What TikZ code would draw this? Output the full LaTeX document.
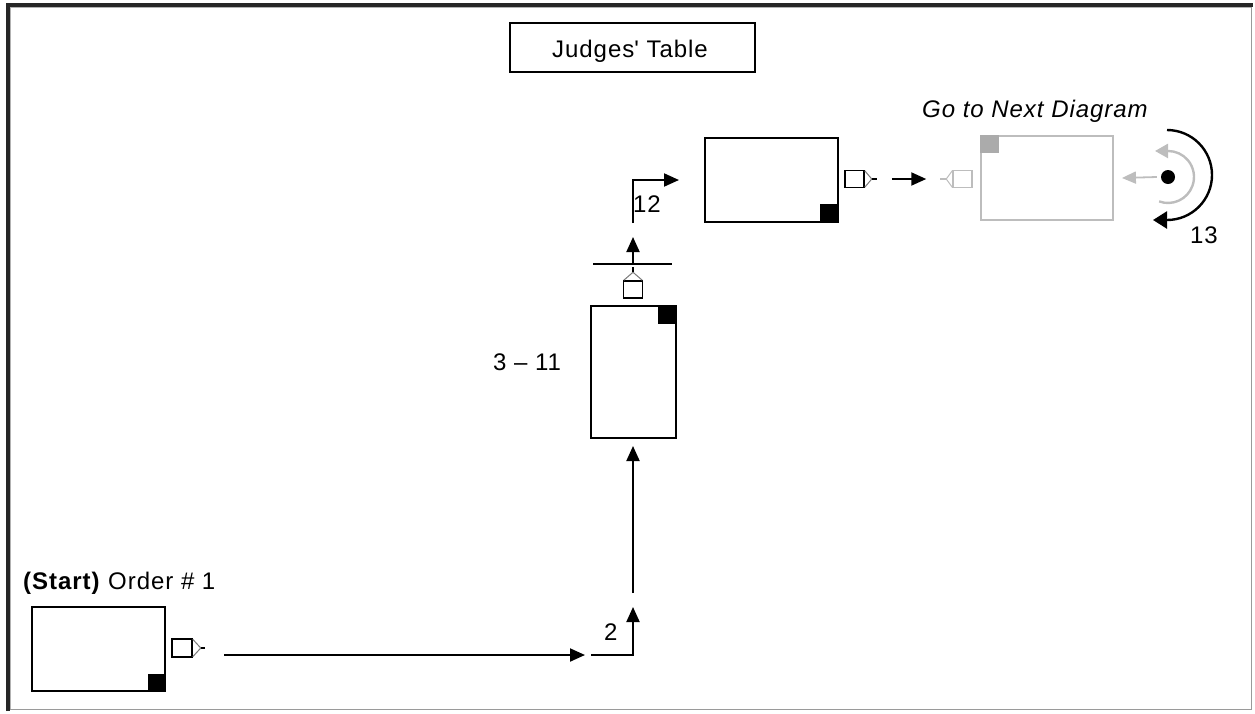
\documentclass[tikz,border=0pt]{standalone}
\usepackage{fontspec}
\setmainfont[LetterSpace=4]{Liberation Sans}
\usetikzlibrary{arrows.meta,bending,calc}
\definecolor{frameDark}{HTML}{262626}
\definecolor{frameGray}{HTML}{9A9A9A}
\definecolor{ghost}{HTML}{BDBDBD}
\definecolor{ghostDark}{HTML}{ABABAB}
\definecolor{triGray}{HTML}{7A7A7A}
\newcommand\lblfont{\fontsize{24}{28}\selectfont}
\begin{document}
\begin{tikzpicture}[x=1pt,y=-1pt,
  lbl/.style={inner sep=0pt, font=\lblfont},
  box/.style={draw=black, line width=2pt, inner sep=0pt, minimum width=133pt, minimum height=84pt},
  ghostbox/.style={draw=ghost, line width=1.8pt, inner sep=0pt, minimum width=132pt, minimum height=84pt},
  portbox/.style={draw=black, line width=1.5pt, fill=white, inner sep=0pt, minimum width=19pt, minimum height=17pt},
  ghostport/.style={portbox, draw=ghost},
  tri/.style={draw=triGray, line width=1pt},
  stub/.style={draw=black, line width=1.1pt},
  flow/.style={line width=2pt, -{Triangle[length=15pt,width=13pt]}},
  ghostflow/.style={draw=ghost, line width=1.8pt, -{Triangle[length=14pt,width=12pt]}},
  ghostarc/.style={draw=ghost, line width=2.4pt, -{Triangle[length=13pt,width=14pt]}},
  blackarc/.style={draw=black, line width=2.4pt, -{Triangle[length=14pt,width=17pt]}},
]
\useasboundingbox (0,0) rectangle (1255,713);
% frame
\draw[frameGray, line width=1.2pt] (8,709.6) -- (1251.6,709.6) -- (1251.6,5);
\draw[black!30, line width=0.8pt] (10.6,709) -- (10.6,7.6) -- (1251,7.6);
\draw[frameDark, line width=3.4pt] (8,711) -- (8,5) -- (1253,5);

% title
\node[draw, line width=2.6pt, minimum width=245pt, minimum height=49pt, inner sep=0pt] (judges) at (632.5,47.5) {};
\node[lbl, anchor=base] (judgesText) at (630,57) {Judges\textquotesingle{} Table};

% start box
\node[lbl, anchor=base west] (startLbl) at (23,589) {\textbf{(Start)} Order \# 1};
\node[box] (start) at (98.5,649) {};
\fill (start.south east) rectangle ++(-18,-18);
\node[portbox, minimum width=20pt, minimum height=18pt] (pStart) at (182,648) {};
\draw[tri] ([yshift=-1pt]pStart.north east) -- ([xshift=8pt]pStart.east) -- ([yshift=1pt]pStart.south east);
\draw[stub] ([xshift=8pt]pStart.east) -- ([xshift=12pt]pStart.east);

% bottom connectors
\coordinate (s1) at (224,655);
\coordinate (s2) at (585,655);
\draw[flow] (s1) -- (s2);
\coordinate (e1) at (591,655);
\coordinate (e2) at (633,655);
\coordinate (e3) at (633,607);
\draw[flow] (e1) -- (e2) -- (e3);
\node[lbl, anchor=base west] (n2) at (604,640) {2};

% 3-11 box
\node[box, minimum width=85pt, minimum height=132pt] (b311) at (633,372) {};
\fill (b311.north east) rectangle ++(-19,19);
\node[lbl, anchor=base west] (n311) at (493,370) {3 – 11};
\coordinate (v1) at (633,593);
\draw[flow] (v1) -- ([yshift=-7pt]b311.south);

% up port and bar
\node[portbox] (pUp) at (633,289.5) {};
\draw[tri] ([xshift=1pt]pUp.north west) -- ([yshift=8pt]pUp.north) -- ([xshift=-1pt]pUp.north east);
\draw[stub] ([yshift=8pt]pUp.north) -- ([yshift=13pt]pUp.north);
\coordinate (barL) at (593,264);
\coordinate (barR) at (672,264);
\draw[line width=1.5pt] (barL) -- (barR);
\coordinate (u1) at (633,263);
\coordinate (u2) at (633,237);
\draw[flow] (u1) -- (u2);

% box 12
\node[box] (b12) at (771.5,180) {};
\fill (b12.south east) rectangle ++(-19,-19);
\coordinate (w1) at (633,223);
\coordinate (w2) at (633,180);
\draw[flow] (w1) -- (w2) -- ([xshift=-25pt]b12.west);
\node[lbl, anchor=base west] (n12) at (633,212) {12};

\node[portbox] (p12) at (854.5,179) {};
\draw[tri] ([yshift=-1pt]p12.north east) -- ([xshift=7pt]p12.east) -- ([yshift=1pt]p12.south east);
\draw[stub] ([xshift=7pt]p12.east) -- ([xshift=12pt]p12.east);

% ghost part
\node[ghostport] (pGhost) at (962.5,179) {};
\draw[ghost, line width=1pt] ([yshift=-1pt]pGhost.north west) -- ([xshift=-6pt]pGhost.west) -- ([yshift=1pt]pGhost.south west);
\draw[ghost, line width=1.1pt] ([xshift=-6pt]pGhost.west) -- ([xshift=-12pt]pGhost.west);
\draw[flow] ([xshift=27pt]p12.east) -- ([xshift=-26pt]pGhost.west);

\node[ghostbox] (gbox) at (1047,178) {};
\fill[ghostDark] (gbox.north west) rectangle ++(19,18);
\node[lbl, anchor=base west, font=\lblfont\itshape] (goLbl) at (922,117) {Go to Next Diagram};

\node[circle, fill=black, inner sep=0pt, minimum size=14pt] (dot) at (1168,177) {};
\draw[ghostflow] ([xshift=-4pt]dot.west) -- ([xshift=8pt]gbox.east);
\draw[ghostarc] (1159.1,201.4) arc[start angle=110, end angle=-90, radius=26] -- ++(-13,0);
\draw[blackarc] (1167,130) arc[start angle=-90, end angle=90, radius=45] -- ++(-14,0);
\node[lbl, anchor=base west] (n13) at (1190,243) {13};
\end{tikzpicture}
\end{document}
